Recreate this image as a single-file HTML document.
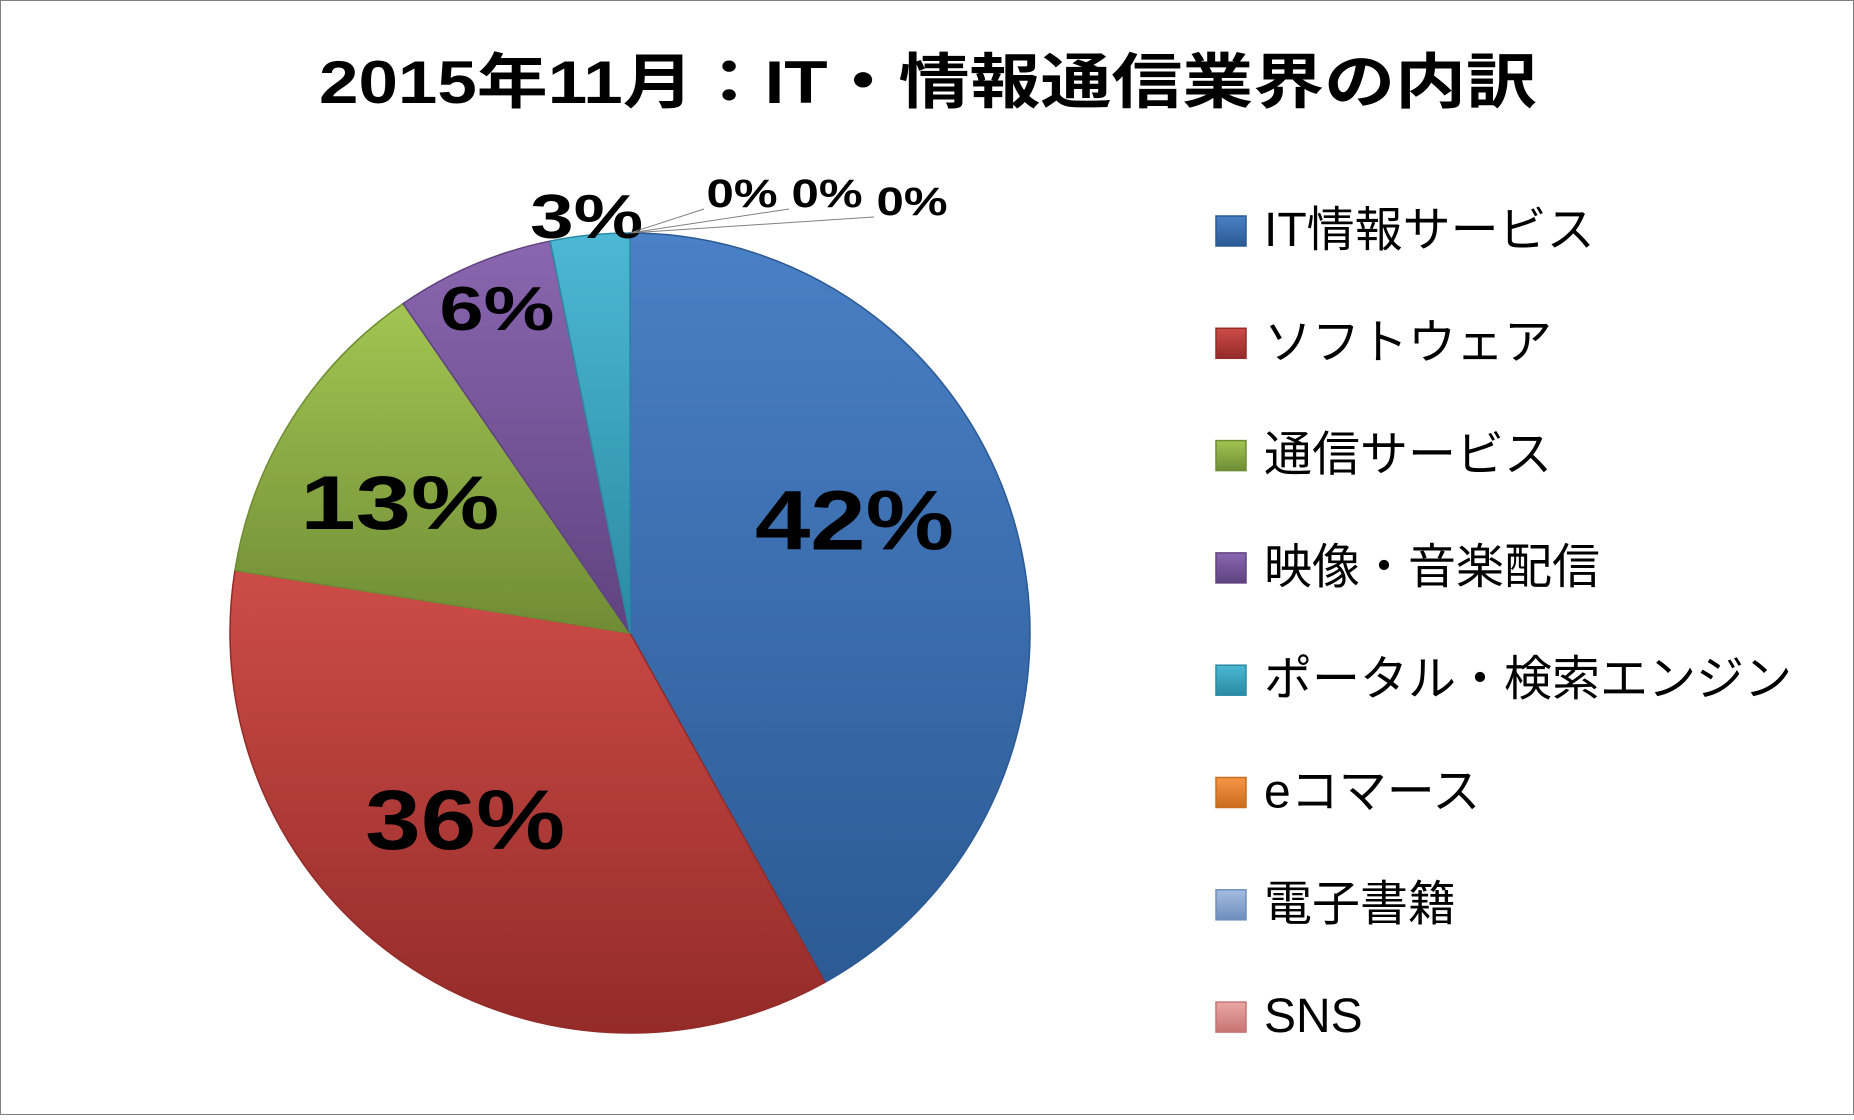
<!DOCTYPE html>
<html><head><meta charset="utf-8">
<style>
html,body{margin:0;padding:0;background:#fff;}
body{width:1854px;height:1115px;overflow:hidden;}
svg text{font-family:"Liberation Sans","Noto Sans CJK JP",sans-serif;}
</style></head>
<body>
<svg id="chart" width="1854" height="1115" viewBox="0 0 1854 1115" xmlns="http://www.w3.org/2000/svg">
<defs>
<linearGradient id="g0" x1="0" y1="0" x2="0" y2="1"><stop offset="0" stop-color="#4a80c6"/><stop offset="1" stop-color="#2b5a94"/></linearGradient>
<linearGradient id="g1" x1="0" y1="0" x2="0" y2="1"><stop offset="0" stop-color="#cd4c48"/><stop offset="1" stop-color="#932b28"/></linearGradient>
<linearGradient id="g2" x1="0" y1="0" x2="0" y2="1"><stop offset="0" stop-color="#a2c552"/><stop offset="1" stop-color="#6f8c35"/></linearGradient>
<linearGradient id="g3" x1="0" y1="0" x2="0" y2="1"><stop offset="0" stop-color="#8a66b0"/><stop offset="1" stop-color="#5f437f"/></linearGradient>
<linearGradient id="g4" x1="0" y1="0" x2="0" y2="1"><stop offset="0" stop-color="#4cb8d4"/><stop offset="1" stop-color="#2b8aa3"/></linearGradient>
<linearGradient id="g5" x1="0" y1="0" x2="0" y2="1"><stop offset="0" stop-color="#f79646"/><stop offset="1" stop-color="#c86d1e"/></linearGradient>
<linearGradient id="g6" x1="0" y1="0" x2="0" y2="1"><stop offset="0" stop-color="#a5bde0"/><stop offset="1" stop-color="#6f8dbd"/></linearGradient>
<linearGradient id="g7" x1="0" y1="0" x2="0" y2="1"><stop offset="0" stop-color="#eaa7a6"/><stop offset="1" stop-color="#c77473"/></linearGradient>
</defs>
<rect x="0.5" y="0.5" width="1853" height="1114" fill="#fff" stroke="#808080" stroke-width="1"/>
<text x="928" y="103" text-anchor="middle" font-size="60" font-weight="bold" fill="#000" textLength="1218" lengthAdjust="spacingAndGlyphs">2015年11月：IT・情報通信業界の内訳</text>
<g id="slices"></g>
<g id="labels"></g>
<g id="legend"></g>
</svg>
<script>
const categories = ["IT情報サービス","ソフトウェア","通信サービス","映像・音楽配信","ポータル・検索エンジン","eコマース","電子書籍","SNS"];
const values = [41.9, 35.6, 12.9, 6.4, 3.2, 0, 0, 0];
const valueLabels = ["42%","36%","13%","6%","3%","0%","0%","0%"];

const NS = "http://www.w3.org/2000/svg";
const cx = 630, cy = 633, r = 400;
const total = values.reduce((a,b)=>a+b,0);
const edge = ["#2b5a94","#932b28","#6f8c35","#5f437f","#2b8aa3","#c86d1e","#6f8dbd","#c77473"];
const fontSizes = [84,84,76,62,62,40,40,40];
const labelW = [199,200,199,115,113,71,71,71];
const labelFrac = [0.58,0.72,0.68,0.85,1.08,1,1,1];
const labelDy = [-25,-20,41,10,35,0,0,0];
function pt(angDeg, rad){const a=angDeg*Math.PI/180;return [cx+rad*Math.sin(a), cy-rad*Math.cos(a)];}
const gS=document.getElementById('slices'), gL=document.getElementById('labels'), gG=document.getElementById('legend');
let acc=0; let zeroIdx=0;
values.forEach((v,i)=>{
  const a0=acc/total*360; acc+=v; const a1=acc/total*360;
  if(v>0){
    const p0=pt(a0,r), p1=pt(a1,r);
    const large=(a1-a0)>180?1:0;
    const path=document.createElementNS(NS,'path');
    path.setAttribute('d',`M${cx},${cy} L${p0[0]},${p0[1]} A${r},${r} 0 ${large} 1 ${p1[0]},${p1[1]} Z`);
    path.setAttribute('fill',`url(#g${i})`);
    path.setAttribute('stroke',edge[i]);
    path.setAttribute('stroke-width','1.5');
    
    
    gS.appendChild(path);
  }
  const mid=(a0+a1)/2;
  let lx,ly;
  if(v>0){ [lx,ly]=pt(mid,r*labelFrac[i]); ly+=labelDy[i]; }
  else {
    const p=pt(a0,r);
    lx=742+zeroIdx*85; ly=207+(zeroIdx===2?8:0);
    const ln=document.createElementNS(NS,'line');
    ln.setAttribute('x1',p[0]);ln.setAttribute('y1',p[1]);
    ln.setAttribute('x2',lx-38);ln.setAttribute('y2',ly+2);
    ln.setAttribute('stroke','#808080');ln.setAttribute('stroke-width','1');
    
    
    gL.appendChild(ln);
    zeroIdx++;
  }
  const t=document.createElementNS(NS,'text');
  t.setAttribute('x',lx);t.setAttribute('y',ly);
  t.setAttribute('text-anchor','middle');
  t.setAttribute('font-size',fontSizes[i]);
  t.setAttribute('font-weight','bold');
  t.setAttribute('fill','#000');
  t.setAttribute('textLength',labelW[i]);
  t.setAttribute('lengthAdjust','spacingAndGlyphs');
  t.textContent=valueLabels[i];
  
  
  gL.appendChild(t);
  const y=230+i*112.3;
  const sq=document.createElementNS(NS,'rect');
  sq.setAttribute('x',1216);sq.setAttribute('y',y-14);sq.setAttribute('width',30);sq.setAttribute('height',30);
  sq.setAttribute('fill',`url(#g${i})`);sq.setAttribute('stroke',edge[i]);sq.setAttribute('stroke-width','1.5');
  
  
  gG.appendChild(sq);
  const lt=document.createElementNS(NS,'text');
  lt.setAttribute('x',1264);lt.setAttribute('y',y+16);
  lt.setAttribute('font-size','48');lt.setAttribute('fill','#000');
  lt.textContent=categories[i];
  
  
  gG.appendChild(lt);
});
</script>
</body></html>
